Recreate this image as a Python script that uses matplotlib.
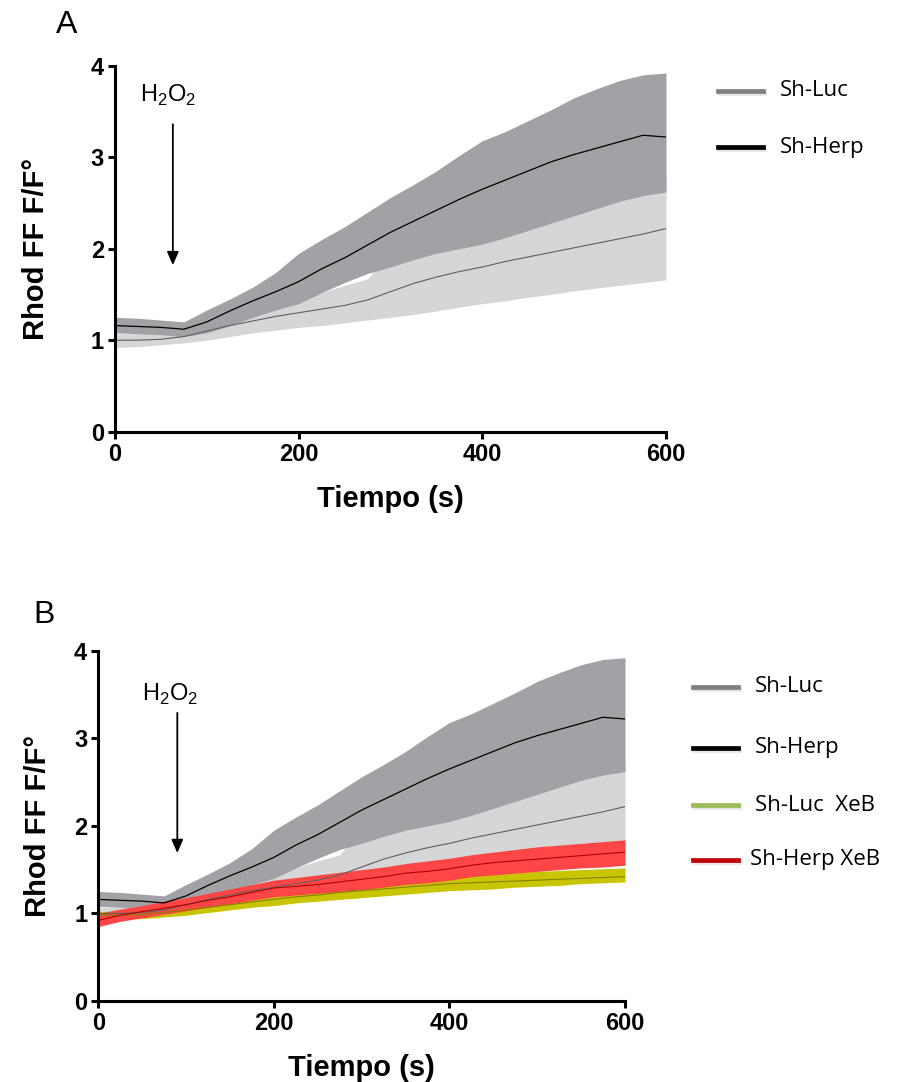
import matplotlib
matplotlib.use("Agg")
import matplotlib.pyplot as plt
import matplotlib.patheffects as pe
from matplotlib.lines import Line2D
import numpy as np

plt.rcParams["font.family"] = "Liberation Sans"
plt.rcParams["mathtext.fontset"] = "custom"
plt.rcParams["mathtext.rm"] = "Liberation Sans"

# ---- values (time in s, Rhod FF F/F0) --------------------------------------
T = [0, 25, 50, 75, 100, 125, 150, 175, 200, 225, 250, 275, 300,
     325, 350, 375, 400, 425, 450, 475, 500, 525, 550, 575, 600]

herp_mean = [1.16, 1.15, 1.14, 1.12, 1.20, 1.32, 1.43, 1.53, 1.64, 1.78, 1.90, 2.04, 2.18,
             2.30, 2.42, 2.54, 2.65, 2.75, 2.85, 2.95, 3.03, 3.10, 3.17, 3.24, 3.22]
herp_hi   = [1.25, 1.24, 1.22, 1.20, 1.33, 1.45, 1.58, 1.74, 1.95, 2.10, 2.24, 2.40, 2.56,
             2.70, 2.85, 3.02, 3.18, 3.28, 3.40, 3.52, 3.65, 3.75, 3.84, 3.90, 3.92]
herp_lo   = [1.08, 1.07, 1.06, 1.04, 1.08, 1.16, 1.25, 1.33, 1.40, 1.52, 1.63, 1.73, 1.80,
             1.88, 1.95, 2.00, 2.05, 2.12, 2.20, 2.28, 2.36, 2.44, 2.52, 2.58, 2.62]

luc_mean = [1.00, 1.00, 1.01, 1.04, 1.10, 1.16, 1.21, 1.26, 1.30, 1.34, 1.38, 1.44, 1.53,
            1.62, 1.69, 1.75, 1.80, 1.86, 1.91, 1.96, 2.01, 2.06, 2.11, 2.16, 2.22]
luc_hi   = [1.07, 1.07, 1.08, 1.11, 1.17, 1.25, 1.32, 1.39, 1.45, 1.52, 1.60, 1.67, 1.98,
            2.06, 2.14, 2.20, 2.26, 2.32, 2.38, 2.44, 2.50, 2.57, 2.64, 2.72, 2.78]
luc_lo   = [0.92, 0.93, 0.95, 0.97, 1.00, 1.04, 1.08, 1.11, 1.14, 1.16, 1.19, 1.22, 1.25,
            1.28, 1.32, 1.36, 1.40, 1.43, 1.47, 1.50, 1.54, 1.57, 1.60, 1.63, 1.66]

herpxeb_mean = [0.92, 0.98, 1.02, 1.06, 1.10, 1.15, 1.19, 1.24, 1.29, 1.31, 1.33, 1.36, 1.39,
                1.42, 1.46, 1.48, 1.51, 1.55, 1.58, 1.60, 1.62, 1.64, 1.66, 1.68, 1.70]
herpxeb_hi   = [1.00, 1.05, 1.09, 1.14, 1.18, 1.23, 1.28, 1.33, 1.38, 1.41, 1.44, 1.47, 1.50,
                1.53, 1.57, 1.60, 1.63, 1.67, 1.70, 1.73, 1.76, 1.78, 1.80, 1.82, 1.84]
herpxeb_lo   = [0.85, 0.91, 0.95, 0.99, 1.03, 1.07, 1.11, 1.15, 1.19, 1.21, 1.23, 1.25, 1.27,
                1.30, 1.33, 1.35, 1.38, 1.42, 1.44, 1.46, 1.48, 1.50, 1.52, 1.53, 1.55]

lucxeb_mean = [0.98, 0.98, 0.99, 1.01, 1.04, 1.07, 1.10, 1.13, 1.16, 1.19, 1.21, 1.24, 1.26,
               1.28, 1.30, 1.32, 1.34, 1.35, 1.36, 1.37, 1.38, 1.39, 1.40, 1.41, 1.42]
lucxeb_hi   = [1.02, 1.03, 1.04, 1.06, 1.09, 1.13, 1.16, 1.20, 1.23, 1.26, 1.29, 1.32, 1.34,
               1.36, 1.39, 1.41, 1.43, 1.45, 1.46, 1.47, 1.48, 1.49, 1.50, 1.51, 1.52]
lucxeb_lo   = [0.94, 0.94, 0.94, 0.96, 0.98, 1.01, 1.04, 1.07, 1.09, 1.12, 1.14, 1.16, 1.18,
               1.20, 1.22, 1.24, 1.26, 1.27, 1.28, 1.30, 1.31, 1.32, 1.34, 1.35, 1.36]

XTICKS = [0, 200, 400, 600]
YTICKS = [0, 1, 2, 3, 4]

C_DARK, C_LIGHT = "#a2a2a6", "#d6d6d6"
C_RED, C_REDM = "#ff4646", "#b00000"
C_OLV, C_OLVM = "#c8c400", "#858000"

W, H = 897, 1082
fig = plt.figure(figsize=(W / 100, H / 100), dpi=100)

def px_box(x0, y0, x1, y1):
    return [x0 / W, 1 - y1 / H, (x1 - x0) / W, (y1 - y0) / H]

def fx(x): return x / W
def fy(y): return 1 - y / H

axA = fig.add_axes(px_box(115, 65.7, 666, 431.7))
axB = fig.add_axes(px_box(98.3, 650.7, 625, 1001))

def base_traces(ax):
    ax.fill_between(T, luc_lo, luc_hi, color=C_LIGHT, lw=0)
    ax.fill_between(T, herp_lo, herp_hi, color=C_DARK, lw=0)
    ax.plot(T, luc_mean, color="#606060", lw=0.8)
    ax.plot(T, herp_mean, color="black", lw=0.9)

def style(ax, xlab_y, ylab_x):
    ax.set_xlim(0, 600); ax.set_ylim(0, 4)
    ax.set_xticks(XTICKS); ax.set_yticks(YTICKS)
    for s in ("top", "right"):
        ax.spines[s].set_visible(False)
    for s in ("left", "bottom"):
        ax.spines[s].set_linewidth(2.2)
    ax.tick_params(width=2.2, length=5, labelsize=17, pad=3)
    for lab in ax.get_xticklabels() + ax.get_yticklabels():
        lab.set_fontweight("bold")
    ax.set_xlabel("Tiempo (s)", fontsize=21, fontweight="bold", va="center")
    ax.set_ylabel("Rhod FF F/F°", fontsize=21, fontweight="bold", va="center")
    ax.xaxis.set_label_coords(0.5, xlab_y)
    ax.yaxis.set_label_coords(ylab_x, 0.5)

def h2o2(ax, tx, ty, ax_x, y_top, y_tip):
    ax.annotate("", xy=(ax_x, y_tip), xytext=(ax_x, y_top),
                arrowprops=dict(arrowstyle="-|>,head_width=0.35,head_length=0.8",
                                color="black", lw=1.3, shrinkA=0, shrinkB=0))
    ax.text(tx, ty, r"H$_\mathregular{2}$O$_\mathregular{2}$", fontsize=17,
            ha="center", va="baseline")

# ---- Panel A ----
base_traces(axA)
style(axA, -0.185, -0.143)
h2o2(axA, 58, 3.61, 63, 3.36, 1.82)

# ---- Panel B ----
base_traces(axB)
axB.fill_between(T, lucxeb_lo, lucxeb_hi, color=C_OLV, lw=0)
axB.plot(T, lucxeb_mean, color=C_OLVM, lw=0.8)
axB.fill_between(T, herpxeb_lo, herpxeb_hi, color=C_RED, lw=0)
axB.plot(T, herpxeb_mean, color=C_REDM, lw=0.8)
style(axB, -0.19, -0.115)
h2o2(axB, 82, 3.43, 90, 3.29, 1.69)

# ---- panel letters ----
fig.text(fx(56), fy(33), "A", fontsize=23, ha="left", va="baseline")
fig.text(fx(33), fy(623), "B", fontsize=23, ha="left", va="baseline")

# ---- hand-drawn legends (line with soft shadow + label) ----
shadow = [pe.SimpleLineShadow(offset=(0.5, -1.5), shadow_color="#999999", alpha=0.25),
          pe.Normal()]

def legend_entry(x0, x1, y, color, label, tx):
    fig.add_artist(Line2D([fx(x0), fx(x1)], [fy(y), fy(y)], color=color, lw=3.4,
                          transform=fig.transFigure, path_effects=shadow))
    fig.text(fx(tx), fy(y), label, fontsize=16, family="Open Sans",
             ha="left", va="center")

legend_entry(718, 763, 90.7, "#808080", "Sh-Luc", 780)
legend_entry(718, 763, 147, "black", "Sh-Herp", 780)

legend_entry(693, 738, 686.7, "#808080", "Sh-Luc", 755)
legend_entry(693, 738, 747.7, "black", "Sh-Herp", 755)
legend_entry(693, 738, 805.3, "#9bbb59", "Sh-Luc  XeB", 755)
legend_entry(693, 738, 860, "#c00000", "Sh-Herp XeB", 750)

fig.savefig("out.png", dpi=100)
